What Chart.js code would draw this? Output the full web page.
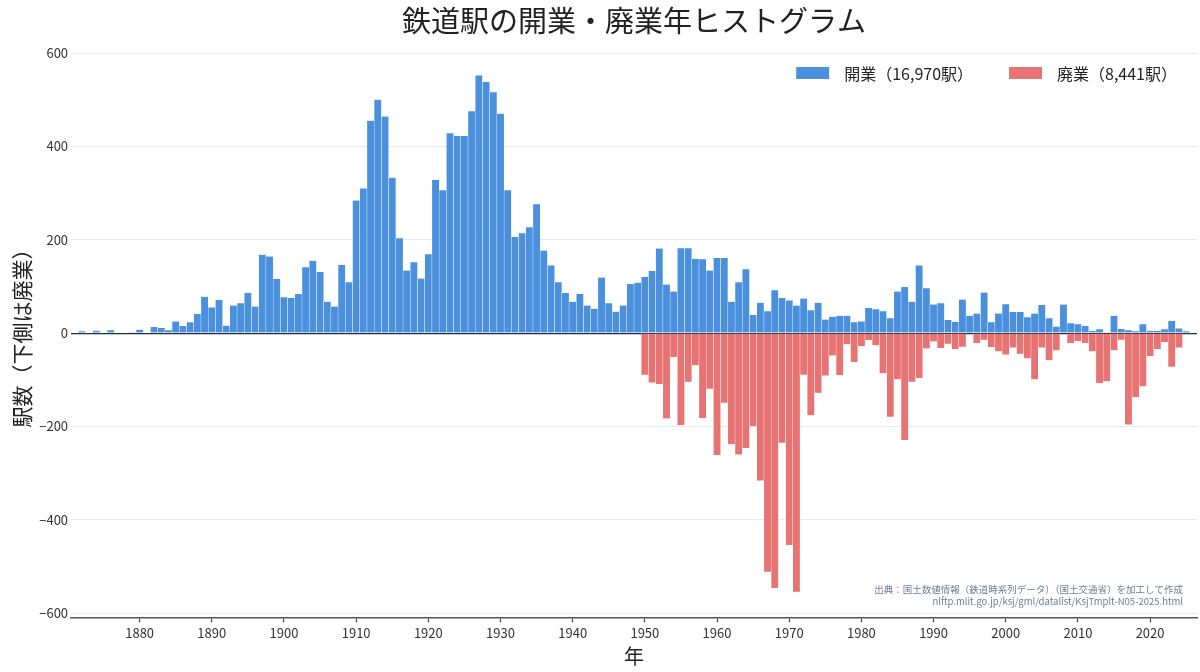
<!DOCTYPE html>
<html lang="ja">
<head>
<meta charset="utf-8">
<title>鉄道駅の開業・廃業年ヒストグラム</title>
<script src="https://cdn.jsdelivr.net/npm/chart.js@4/dist/chart.umd.min.js"></script>
<style>
  html, body { margin: 0; padding: 0; background: #fff; }
  #wrap { width: 1200px; height: 672px; }
</style>
</head>
<body>
<div id="wrap"><canvas id="stationChart"></canvas></div>
<script>
// years on the x axis (one bar per year)
const firstYear = 1871;
const lastYear = 2026;
const years = [];
for (let y = firstYear; y <= lastYear; y++) years.push(y);

// stations opened per year, 1871 .. 2026
const opened = [
  0, 4, 0, 5, 0, 6, 0, 0, 2, 7,                // 1871-1880
  0, 13, 11, 6, 25, 15, 23, 41, 78, 55,        // 1881-1890
  71, 16, 59, 64, 86, 57, 168, 164, 116, 77,   // 1891-1900
  75, 84, 141, 155, 131, 67, 57, 146, 109, 284, // 1901-1910
  310, 455, 500, 464, 333, 203, 134, 152, 117, 169, // 1911-1920
  328, 306, 428, 422, 422, 475, 552, 538, 516, 470, // 1921-1930
  306, 206, 214, 227, 276, 177, 145, 109, 86, 67,   // 1931-1940
  84, 59, 52, 119, 64, 46, 59, 105, 108, 120,       // 1941-1950
  133, 181, 104, 89, 182, 182, 159, 158, 134, 161,  // 1951-1960
  161, 67, 109, 137, 39, 65, 47, 92, 75, 70,        // 1961-1970
  59, 74, 49, 65, 29, 35, 37, 37, 23, 25,           // 1971-1980
  54, 51, 47, 32, 89, 99, 67, 145, 96, 61,          // 1981-1990
  64, 28, 24, 72, 37, 42, 87, 23, 42, 62,           // 1991-2000
  45, 45, 34, 42, 60, 32, 14, 61, 21, 19,           // 2001-2010
  15, 5, 8, 2, 37, 9, 6, 4, 19, 5,                  // 2011-2020
  5, 8, 26, 10, 4, 0                                // 2021-2026
];

// stations closed per year (drawn below zero), 1871 .. 2026
const closed = [
  0, 0, 0, 0, 0, 0, 0, 0, 0, 0,                // 1871-1880
  0, 0, 0, 0, 0, 0, 0, 0, 0, 0,                // 1881-1890
  0, 0, 0, 0, 0, 0, 0, 0, 0, 0,                // 1891-1900
  0, 0, 0, 0, 0, 0, 0, 0, 0, 0,                // 1901-1910
  0, 0, 0, 0, 0, 0, 0, 0, 0, 0,                // 1911-1920
  0, 0, 0, 0, 0, 0, 0, 0, 0, 0,                // 1921-1930
  0, 0, 0, 0, 0, 0, 0, 0, 0, 0,                // 1931-1940
  0, 0, 0, 0, 0, 0, 0, 0, 0, 89,               // 1941-1950
  106, 109, 183, 51, 197, 104, 69, 182, 119, 261,   // 1951-1960
  149, 238, 260, 246, 199, 316, 511, 546, 235, 454, // 1961-1970
  554, 89, 176, 128, 91, 48, 90, 24, 62, 28,        // 1971-1980
  15, 26, 86, 179, 99, 229, 104, 96, 33, 18,        // 1981-1990
  32, 23, 34, 29, 0, 21, 14, 30, 39, 46,            // 1991-2000
  31, 44, 54, 99, 31, 58, 37, 0, 21, 17,            // 2001-2010
  21, 39, 107, 103, 37, 14, 196, 137, 114, 49,      // 2011-2020
  34, 19, 72, 31, 0, 0                              // 2021-2026
];

const seriesNames = ['開業（16,970駅）', '廃業（8,441駅）'];
const yTicks = [-600, -400, -200, 0, 200, 400, 600];
const sourceLines = [
  '出典：国土数値情報（鉄道時系列データ）（国土交通省）を加工して作成',
  'nlftp.mlit.go.jp/ksj/gml/datalist/KsjTmplt-N05-2025.html'
];

const FONT = '"Noto Sans CJK JP", "Noto Sans", sans-serif';

// legend in the upper right of the plot, plus the small credit text
const notesPlugin = {
    id: 'notes',
    afterDraw(chart) {
        const { ctx, chartArea } = chart;
        ctx.save();

        // legend, laid out right to left
        ctx.font = '16px ' + FONT;
        ctx.textBaseline = 'middle';
        ctx.textAlign = 'left';
        let right = chartArea.right - 20;
        const sets = chart.data.datasets;
        for (let i = sets.length - 1; i >= 0; i--) {
            const w = ctx.measureText(sets[i].label).width;
            const textX = right - w;
            const boxX = textX - 15 - 33;
            ctx.fillStyle = sets[i].backgroundColor;
            ctx.fillRect(boxX, 67, 33, 12);
            ctx.fillStyle = '#222';
            ctx.fillText(sets[i].label, textX, 74);
            right = boxX - 36;
        }

        // data source
        ctx.font = '9.5px ' + FONT;
        ctx.fillStyle = '#6f7f8f';
        ctx.textAlign = 'right';
        ctx.fillText(sourceLines[0], chartArea.right - 14, 589);
        ctx.fillText(sourceLines[1], chartArea.right - 14, 601);
        ctx.restore();
    }
};

const ctx = document.getElementById('stationChart').getContext('2d');
new Chart(ctx, {
    type: 'bar',
    data: {
        labels: years,
        datasets: [
            {
                label: seriesNames[0],
                data: opened,
                backgroundColor: '#4a90dc',
                borderColor: 'rgba(255,255,255,0.75)',
                borderWidth: { left: 0.5, right: 0.5, top: 0, bottom: 0 },
                borderSkipped: false,
                grouped: false,
                barPercentage: 1,
                categoryPercentage: 1,
            },
            {
                label: seriesNames[1],
                data: closed.map(v => -v),
                backgroundColor: '#e87373',
                borderColor: 'rgba(255,255,255,0.75)',
                borderWidth: { left: 0.5, right: 0.5, top: 0, bottom: 0 },
                borderSkipped: false,
                grouped: false,
                barPercentage: 1,
                categoryPercentage: 1,
            },
        ],
    },
    plugins: [notesPlugin],
    options: {
        responsive: true,
        maintainAspectRatio: false,
        animation: false,
        layout: { padding: { left: 9, right: 3, top: 0, bottom: 4 } },
        plugins: {
            title: {
                display: true,
                fullSize: false,
                text: '鉄道駅の開業・廃業年ヒストグラム',
                color: '#222',
                font: { family: FONT, size: 29, weight: 'normal' },
                padding: { top: 4, bottom: 10 },
            },
            legend: { display: false },
            tooltip: { enabled: false },
        },
        scales: {
            x: {
                grid: {
                    display: true,
                    offset: false,
                    drawOnChartArea: false,
                    drawTicks: true,
                    tickLength: 5,
                    tickWidth: 1.2,
                    tickColor: '#444',
                    color: '#444',
                },
                border: { display: true, color: '#555', width: 1.5 },
                afterBuildTicks(axis) {
                    axis.ticks = axis.ticks.filter(t => years[t.value] % 10 === 0);
                },
                ticks: {
                    autoSkip: false,
                    maxRotation: 0,
                    color: '#333',
                    font: { family: FONT, size: 13 },
                    padding: 3,
                    callback(value) { return years[value]; },
                },
                title: {
                    display: true,
                    text: '年',
                    color: '#222',
                    font: { family: FONT, size: 20 },
                    padding: { top: 0, bottom: 0 },
                },
            },
            y: {
                min: -609,
                max: 609,
                z: 1,
                afterBuildTicks(axis) {
                    axis.ticks = yTicks.map(v => ({ value: v }));
                },
                grid: {
                    color(c) { return c.tick && c.tick.value === 0 ? '#1f2d3d' : '#e6eaee'; },
                    lineWidth(c) { return c.tick && c.tick.value === 0 ? 1.2 : 1; },
                    drawTicks: false,
                },
                border: { display: false },
                ticks: {
                    color: '#333',
                    font: { family: FONT, size: 13 },
                    padding: 3,
                    callback(value) { return value < 0 ? '\u2212' + Math.abs(value) : String(value); },
                },
                title: {
                    display: true,
                    text: '駅数（下側は廃業）',
                    color: '#222',
                    font: { family: FONT, size: 21 },
                    padding: { top: 0, bottom: 2 },
                },
            },
        },
    },
});
</script>
</body>
</html>
